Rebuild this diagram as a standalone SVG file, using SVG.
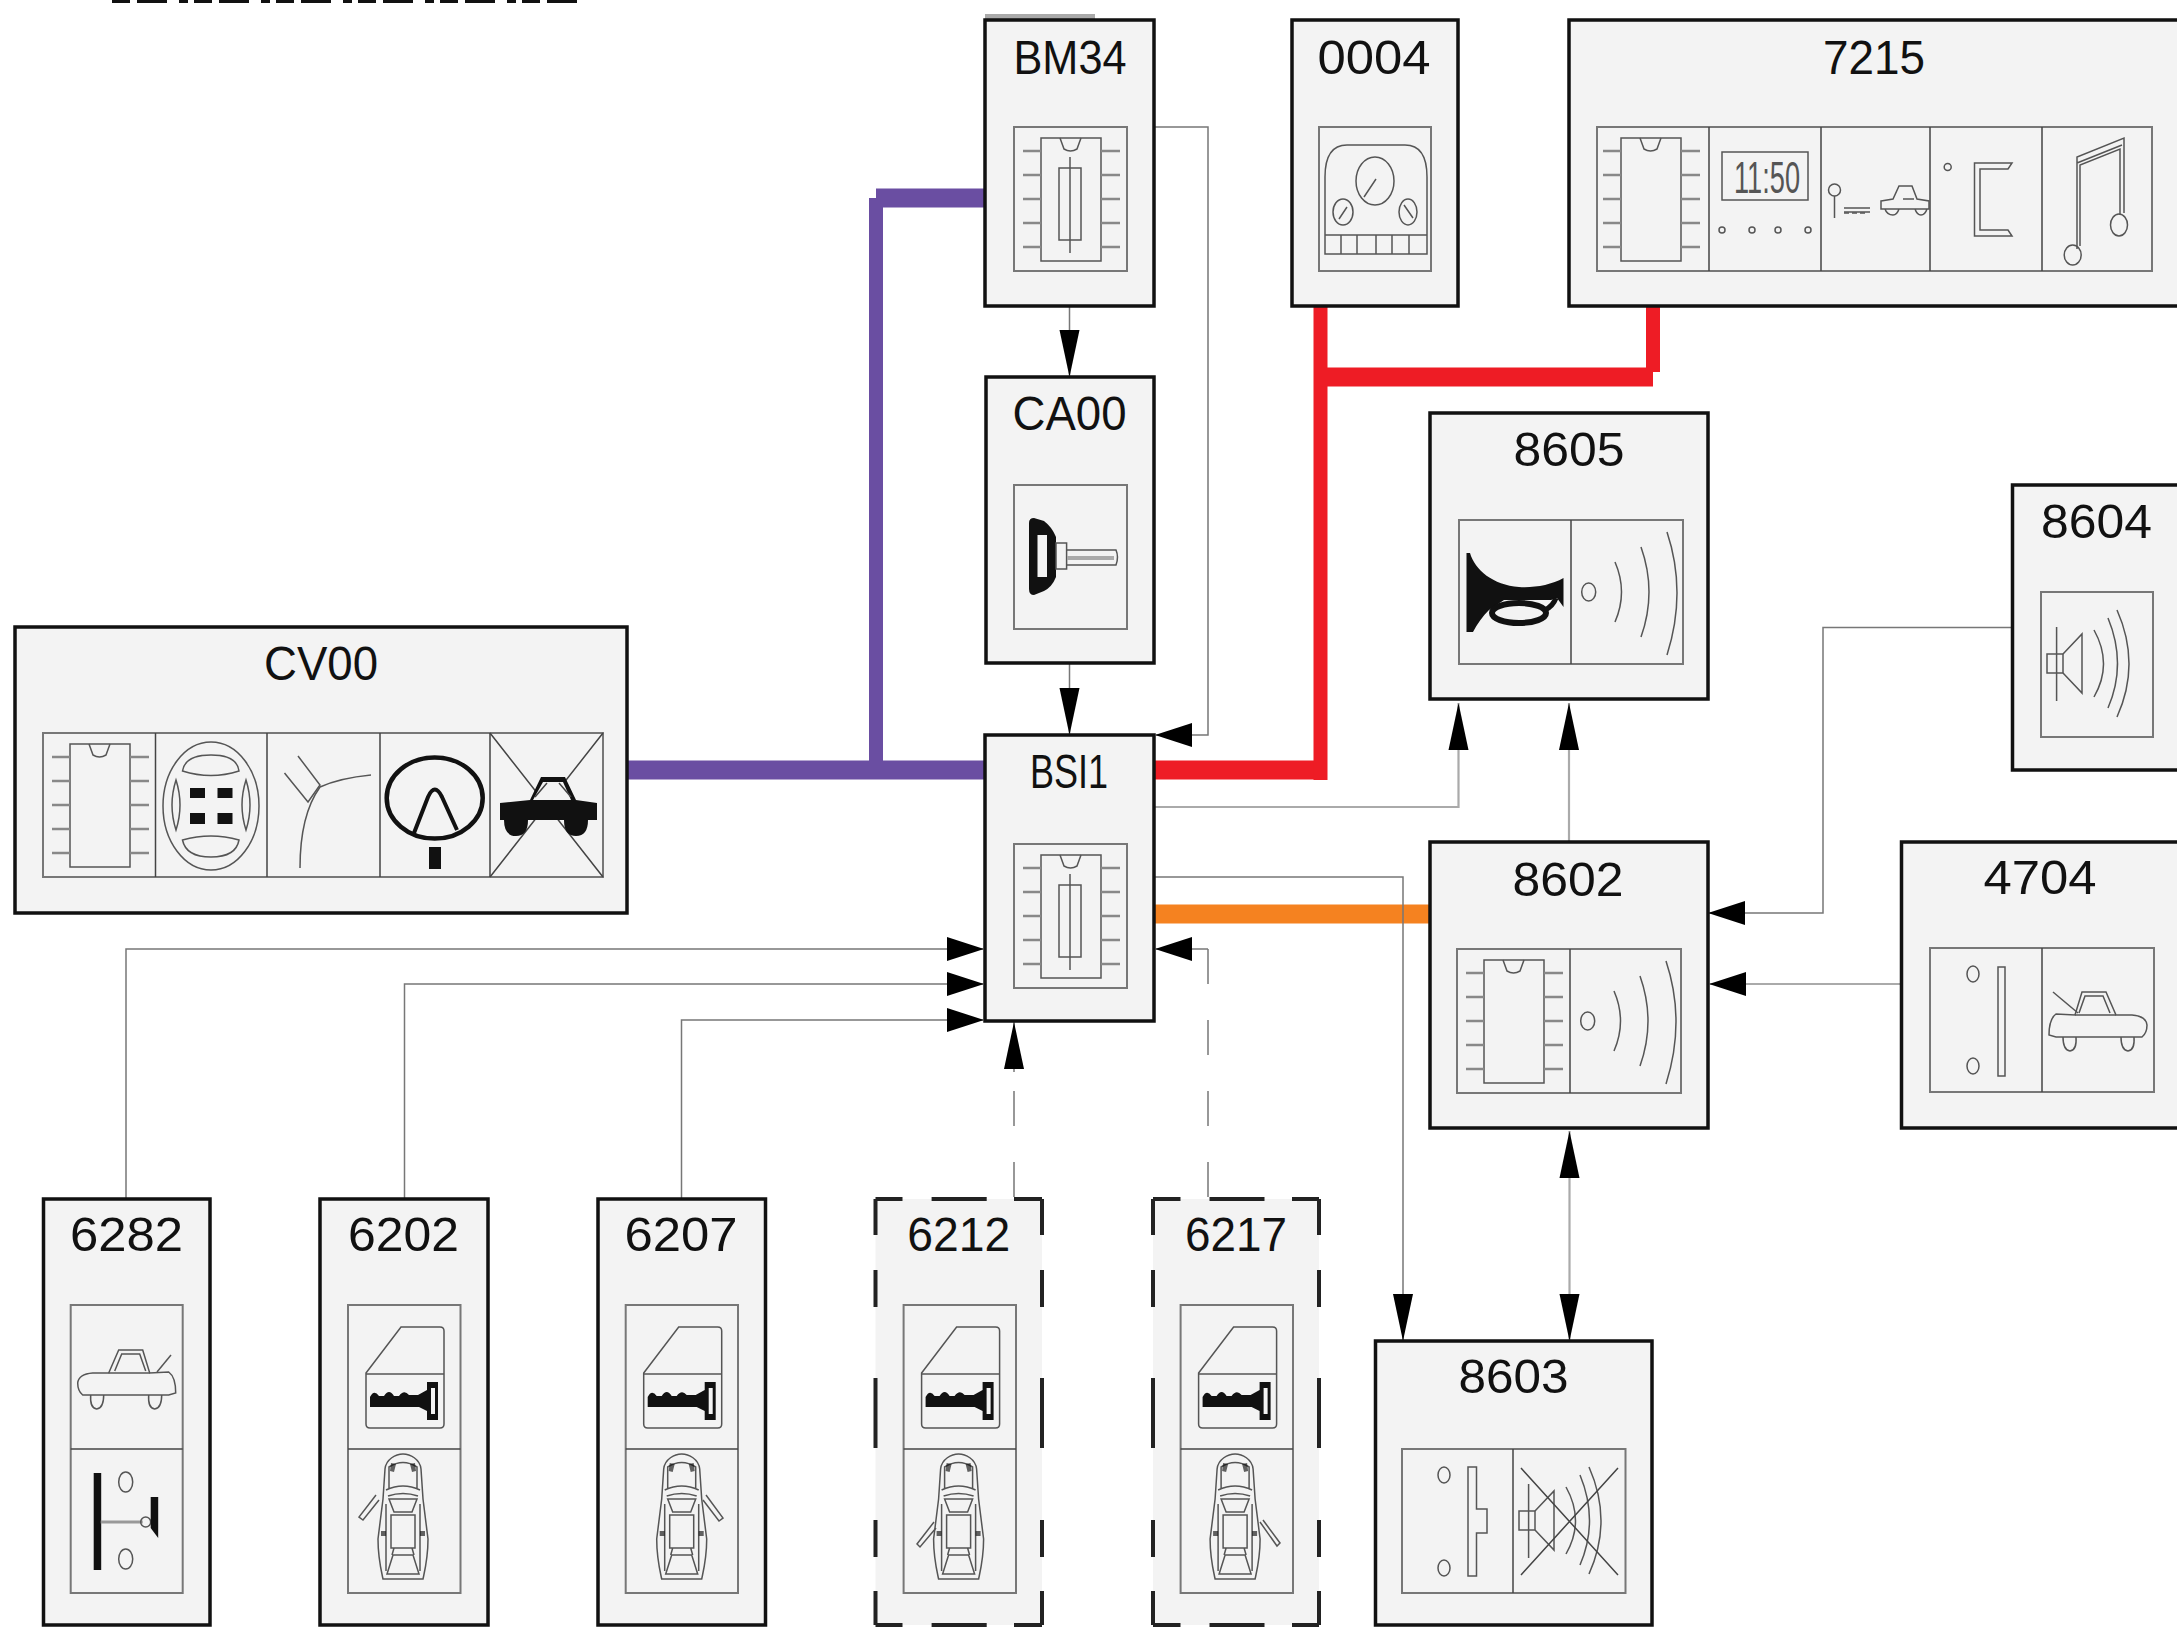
<svg xmlns="http://www.w3.org/2000/svg" width="2177" height="1627" viewBox="0 0 2177 1627">
<style>
.n{fill:#f3f3f3;stroke:#111;stroke-width:3.5}
.nd{fill:#f3f3f3;stroke:none}
.b{fill:none;stroke:#222;stroke-width:4}
.c{fill:#f3f3f3;stroke:#777;stroke-width:2}
.d{stroke:#444;stroke-width:1.5;fill:none}
.i{fill:none;stroke:#555;stroke-width:1.5}
.p{fill:none;stroke:#888;stroke-width:2.5}
.k{fill:#111;stroke:none}
.w{fill:none;stroke:#777;stroke-width:1.5}
.wl{fill:none;stroke:#aaa;stroke-width:2.2}
.wd{fill:none;stroke:#777;stroke-width:1.5;stroke-dasharray:35 36}
.fat{fill:none;stroke-width:19}
.thin{fill:none;stroke-width:14}
.t{font-family:"Liberation Sans",Arial,sans-serif;font-size:48px;text-anchor:middle;fill:#111}
.lcd{font-family:"Liberation Sans",Arial,sans-serif;font-size:44px;text-anchor:middle;fill:#555}
.ah{marker-end:url(#ah)}
.av{marker-end:url(#av)}
</style>
<defs>
<marker id="ah" markerUnits="userSpaceOnUse" markerWidth="38" markerHeight="26" refX="36" refY="13" orient="auto"><path d="M0,1 L37,13 L0,25Z" fill="#000"/></marker>
<marker id="av" markerUnits="userSpaceOnUse" markerWidth="48" markerHeight="22" refX="47" refY="11" orient="auto-start-reverse"><path d="M0,1 L47,11 L0,21Z" fill="#000"/></marker>
<g id="chip">
<rect class="i" x="27" y="11" width="60" height="123" stroke-width="2"/>
<path class="i" d="M46,11 L50,22 Q56.500,26 63,22 L67,11"/>
<path class="p" d="M9,24H27M9,48H27M9,72H27M9,96H27M9,120H27M87,24H106M87,48H106M87,72H106M87,96H106M87,120H106"/>
</g>
<g id="chipcore">
<use href="#chip"/>
<rect class="i" x="45" y="41" width="22" height="72"/>
<path class="i" d="M56,30V126"/>
</g>
<g id="wave">
<ellipse class="i" cx="17.700" cy="72" rx="7" ry="9"/>
<path class="i" d="M44,42 Q57,72 44,102M70,27 Q86,72 70,117M96,12 Q116,72 96,135"/>
</g>
<g id="doorkey">
<path class="i" stroke-width="2" d="M18,68 L53,22 L92,22 Q96,22 96,26 L96,119 Q96,123 92,123 L22,123 Q18,123 18,119 Z"/>
<path class="i" d="M18,69H96"/>
<path class="k" d="M22,102 L22,92 Q26,84 31,91 L36,91 Q41,83 46,91 L51,91 Q56,84 61,90 L70,90 L79,85 L79,77 L90,77 L90,115 L79,115 L79,106 L71,102Z"/>
<rect x="83" y="83" width="4" height="26" fill="#f3f3f3"/>
</g>
<g id="cartop">
<path class="i" d="M37,20 C38,10 48,5 55,5 C62,5 72,10 73,20 L75,50 L80,90 C80,110 76,125 75,130 L35,130 C34,125 30,110 30,90 L35,50 Z"/>
<path class="i" d="M41,40 V18 Q55,9 69,18 V40 M38,41 Q55,33 72,41 M40,47 Q55,42 70,47 M41,50 L69,50 L64,63 L46,63Z M38,55 V122 M72,55 V122 M43,66H67V99H43Z M45,106 H65 L71,125 H39Z M46,99 L44,106 M64,99 L66,106"/>
<path class="k" d="M33,82h5v5h-5zM72,82h5v5h-5zM43,14l5,1l-2,8l-4,-1zM67,14l-5,1l2,8l4,-1z" opacity=".65"/>
</g>
<g id="carside">
<path class="i" d="M7,78 Q8,69 22,68 L38,68 L48,45 H72 L79,68 L98,67 Q105,72 105,88 L98,90 H12 Q7,86 7,78Z"/>
<path class="i" d="M38,68 H79 M44,66 L51,49 H69 L75,66"/>
<path class="i" d="M20,90 Q19,103 26,104 Q33,103 33,90 M78,90 Q77,103 84,104 Q91,103 91,90"/>
</g>
<g id="speaker">
<path class="i" d="M15.600,35V109"/>
<rect class="i" x="6" y="62" width="16" height="19"/>
<path class="i" d="M22,62 L41,42 V101 L22,81"/>
<path class="i" d="M53,38 Q72,72 53,105M67,26 Q86,72 67,116M76,18 Q100,72 76,125"/>
</g>
</defs>

<g id="title-clip"><path d="M112,1.500H585" stroke="#111" stroke-width="3" stroke-dasharray="18 7 30 12 9 6" fill="none"/></g>

<g id="connectors">
<path class="fat" stroke="#6a4ea2" d="M627,770H985"/>
<path class="thin" stroke="#6a4ea2" d="M876,770V198"/>
<path class="fat" stroke="#6a4ea2" d="M876,198H985"/>
<path class="fat" stroke="#ee1c25" d="M1154,770H1320"/>
<path class="thin" stroke="#ee1c25" d="M1320.500,780V306"/>
<path class="fat" stroke="#ee1c25" d="M1320,377H1653"/>
<path class="thin" stroke="#ee1c25" d="M1653,372V306"/>
<path class="fat" stroke="#f58220" d="M1154,914H1430"/>
<path class="w av" d="M1069.500,306V377"/>
<path class="w av" d="M1069.500,663V735"/>
<path class="w ah" d="M1154,127H1208V735H1156"/>
<path class="wl av" d="M1154,807H1458.500V703"/>
<path class="wl av" d="M1569,842V703"/>
<path class="w ah" d="M2012,627.500H1823V913H1709"/>
<path class="wl ah" d="M1902,984H1710"/>
<path class="w av" d="M1154,877H1403V1341" stroke="#999"/>
<path class="wl av" style="marker-start:url(#av)" d="M1569.500,1131V1341"/>
<path class="w ah" d="M126,1199V949H983"/>
<path class="w ah" d="M404.500,1199V984H983"/>
<path class="w ah" d="M681.500,1199V1020H983"/>
<path class="wd" d="M1014,1197V1062"/>
<path class="w av" d="M1014,1072V1022"/>
<path class="wd" d="M1208,1197V949"/>
<path class="w ah" d="M1208,949H1156"/>
</g>

<g id="BM34">
<path d="M985,16.500H1095" stroke="#aaa" stroke-width="5"/>
<rect class="n" x="985" y="20" width="169" height="286"/>
<text class="t" x="1070" y="74" textLength="113" lengthAdjust="spacingAndGlyphs">BM34</text>
<rect class="c" x="1014" y="127" width="113" height="144"/>
<use href="#chipcore" x="1014" y="127"/>
</g>

<g id="N0004">
<rect class="n" x="1292" y="20" width="166" height="286"/>
<text class="t" x="1374" y="74" textLength="113" lengthAdjust="spacingAndGlyphs">0004</text>
<rect class="c" x="1319" y="127" width="112" height="144"/>
<g transform="translate(1319 127)">
<path class="i" d="M6,127 V50 Q6,18 28,18 H86 Q108,18 108,50 V127 Z M6,108H108 M22,108V127 M38,108V127 M57,108V127 M73,108V127 M90,108V127"/>
<ellipse class="i" cx="56" cy="54" rx="19" ry="24"/>
<ellipse class="i" cx="24" cy="85" rx="10" ry="13"/>
<ellipse class="i" cx="89" cy="85" rx="9" ry="13"/>
<path class="i" stroke-width="2.500" d="M45,70 L57,52 M20,92 L28,80 M85,78 L94,91"/>
</g>
</g>

<g id="N7215">
<rect class="n" x="1569" y="20" width="640" height="286"/>
<text class="t" x="1874" y="74" textLength="102" lengthAdjust="spacingAndGlyphs">7215</text>
<rect class="c" x="1597" y="127" width="555" height="144"/>
<path class="d" d="M1709,127V271M1821,127V271M1930,127V271M2042,127V271"/>
<use href="#chip" x="1594" y="127"/>
<g transform="translate(1709 127)">
<rect class="i" x="13" y="25" width="86" height="48" stroke-width="2.500"/>
<text class="lcd" x="58" y="66" textLength="66" lengthAdjust="spacingAndGlyphs">11:50</text>
<circle class="i" cx="13" cy="103" r="3"/><circle class="i" cx="43" cy="103" r="3"/><circle class="i" cx="69" cy="103" r="3"/><circle class="i" cx="99" cy="103" r="3"/>
</g>
<g transform="translate(1821 127)">
<circle class="i" cx="13.500" cy="63" r="6" stroke-width="2"/>
<path class="i" stroke-width="2" d="M13.500,69V91 M23,81H49 M23,85H49"/>
<path class="i" stroke-width="2" d="M23,86h5M31,86h5M39,86h5"/>
<path class="i" d="M60,74 L72,72 L78,59 H91 L96,72 L108,74 V82 H60Z M82,72H93M64,82 Q66,88 72,88 Q76,88 78,82 M94,82 Q96,88 100,88 Q104,88 106,82"/>
</g>
<g transform="translate(1930 127)">
<circle class="i" cx="17.700" cy="40" r="3.500"/>
<path class="i" stroke-width="2" d="M82,36 H44.500 V109 H82 L78,103 H50 V42 H78Z"/>
</g>
<g transform="translate(2042 127)">
<ellipse class="i" cx="30.700" cy="128" rx="8.500" ry="10"/>
<ellipse class="i" cx="77" cy="98" rx="8.500" ry="11"/>
<path class="i" d="M35,122 V30 L82,11 V86 M38,119 V38 L78,22 V88 M35,36 L80,18"/>
</g>
</g>

<g id="CA00">
<rect class="n" x="986" y="377" width="168" height="286"/>
<text class="t" x="1069.500" y="430" textLength="114" lengthAdjust="spacingAndGlyphs">CA00</text>
<rect class="c" x="1014" y="485" width="113" height="144"/>
<g transform="translate(1014 485)">
<path class="k" d="M15,38 Q15,33 20,33 L30,36 Q38,42 42,52 V92 Q38,102 30,106 L20,110 Q15,110 15,104Z"/>
<rect x="23.500" y="50" width="9.500" height="42" fill="#f3f3f3"/>
<rect class="i" x="42" y="58" width="10.600" height="26"/>
<path class="i" d="M52.600,65 H102 Q105,72 102,80 H52.600"/>
<path d="M53,73H100" stroke="#aaa" stroke-width="4"/>
</g>
</g>

<g id="N8605">
<rect class="n" x="1430" y="413" width="278" height="286"/>
<text class="t" x="1569" y="466" textLength="111" lengthAdjust="spacingAndGlyphs">8605</text>
<rect class="c" x="1459" y="520" width="224" height="144"/>
<path class="d" d="M1571,520V664"/>
<g transform="translate(1459 520)">
<path class="k" d="M7.500,33 L11,33 C16,50 34,65 60,67 C75,68 92,65 104.500,58 L104.500,87 L98,78 L92,80 L45,80 L30,90 C24,96 18,104 14,112 L7.500,112Z"/>
<ellipse cx="60" cy="93" rx="27" ry="10" fill="#f3f3f3" stroke="#111" stroke-width="6"/>
<path d="M86,90 Q94,86 97,78" fill="none" stroke="#111" stroke-width="5"/>
</g>
<use href="#wave" x="1571" y="520"/>
</g>

<g id="N8604">
<rect class="n" x="2012.500" y="485" width="200" height="285"/>
<text class="t" x="2096.500" y="538" textLength="111" lengthAdjust="spacingAndGlyphs">8604</text>
<rect class="c" x="2041" y="592" width="112" height="145"/>
<use href="#speaker" x="2041" y="592"/>
</g>

<g id="CV00">
<rect class="n" x="15" y="627" width="612" height="286"/>
<text class="t" x="321" y="680" textLength="114" lengthAdjust="spacingAndGlyphs">CV00</text>
<rect class="c" x="43" y="733" width="560" height="144"/>
<path class="d" d="M155.500,733V877M267,733V877M380,733V877M490,733V877"/>
<use href="#chip" x="43" y="733"/>
<ellipse class="i" cx="211" cy="806" rx="48" ry="64"/>
<path class="i" d="M182.500,771 Q185,755 211,755 Q237,755 239,771 Q211,780 182.500,771ZM182.500,840 Q211,832 239,840 Q236,857 211,857 Q186,857 182.500,840ZM176,780 Q168,805 176,830 Q184,805 176,780ZM246,780 Q238,805 246,830 Q254,805 246,780Z"/>
<path class="k" d="M190,788h15v10h-15zM217.500,788h15v10h-15zM190,813h15v11h-15zM217.500,813h15v11h-15z"/>
<path class="i" d="M300,868 Q300,815 320,787 Q340,778 371,775"/>
<path class="i" d="M298,756 L320,785 L308,802 L284.500,773"/>
<ellipse cx="434.700" cy="798" rx="48" ry="40.600" fill="none" stroke="#111" stroke-width="4.500"/>
<path d="M414,833 L428,797 Q434.700,782 442,797 L457,830" fill="none" stroke="#111" stroke-width="4"/>
<rect class="k" x="429" y="847" width="12" height="22"/>
<path class="d" d="M490,733 L603,877 M603,733 L490,877"/>
<path class="k" d="M500,803 L530,800 L541,777 H565 L576,800 L597,803 L597,820 L588,820 Q588,836 576,836 Q564,836 564,820 L528,820 Q528,836 516,836 Q504,836 504,820 L500,820Z"/>
<path d="M533,800 L543,782 H563 L571,800Z" fill="#f3f3f3"/>
<path class="d" d="M535,797 L547,783 M571,797 L559,783"/>
</g>

<g id="BSI1">
<rect class="n" x="985" y="735" width="169" height="286"/>
<text class="t" x="1069" y="788" textLength="78" lengthAdjust="spacingAndGlyphs">BSI1</text>
<rect class="c" x="1014" y="844" width="113" height="144"/>
<use href="#chipcore" x="1014" y="844"/>
</g>

<g id="N8602">
<rect class="n" x="1430" y="842" width="278" height="286"/>
<text class="t" x="1568" y="896" textLength="111" lengthAdjust="spacingAndGlyphs">8602</text>
<rect class="c" x="1457" y="949" width="224" height="144"/>
<path class="d" d="M1570,949V1093" stroke-width="2"/>
<use href="#chip" x="1457" y="949"/>
<use href="#wave" x="1570" y="949"/>
</g>

<g id="N4704">
<rect class="n" x="1901.500" y="842" width="310" height="286"/>
<text class="t" x="2040" y="894" textLength="113" lengthAdjust="spacingAndGlyphs">4704</text>
<rect class="c" x="1930" y="948" width="224" height="144"/>
<path class="d" d="M2042,948V1092"/>
<g transform="translate(1930 948)">
<ellipse class="i" cx="43" cy="26" rx="6" ry="8"/>
<ellipse class="i" cx="43" cy="118" rx="6" ry="8"/>
<rect class="i" x="68" y="19" width="7" height="109"/>
</g>
<use href="#carside" transform="translate(2154 947) scale(-1 1)"/>
<path class="i" stroke-width="3" d="M2053,992 L2078,1013"/>
</g>

<g id="N6282">
<rect class="n" x="43.500" y="1199" width="166.500" height="426"/>
<text class="t" x="126.500" y="1251" textLength="113" lengthAdjust="spacingAndGlyphs">6282</text>
<rect class="c" x="70.700" y="1305" width="112" height="288"/>
<path class="d" d="M70.700,1449H182.700" stroke-width="2.500" stroke="#666"/>
<use href="#carside" x="70.700" y="1305"/>
<path class="i" stroke-width="3" d="M157,1372 L171,1355"/>
<g transform="translate(70.700 1449)">
<rect class="k" x="23" y="24" width="7.500" height="97"/>
<ellipse class="i" cx="55" cy="33" rx="7" ry="10"/>
<ellipse class="i" cx="55" cy="110" rx="7" ry="10"/>
<path d="M30,73H72" stroke="#999" stroke-width="3"/>
<circle class="i" cx="75" cy="73" r="5"/>
<path class="k" d="M80,48 H87.500 V89 L80,79Z"/>
</g>
</g>

<g id="N6202">
<rect class="n" x="320" y="1199" width="168" height="426"/>
<text class="t" x="403.500" y="1251" textLength="111" lengthAdjust="spacingAndGlyphs">6202</text>
<rect class="c" x="348" y="1305" width="112.500" height="288"/>
<path class="d" d="M348,1449H460.500" stroke-width="2.500" stroke="#666"/>
<use href="#doorkey" x="348" y="1305"/>
<use href="#cartop" x="348" y="1449"/>
<path class="i" stroke-width="2" d="M376,1495 L359,1517 L363,1520 L379,1500"/>
</g>

<g id="N6207">
<rect class="n" x="598" y="1199" width="167.500" height="426"/>
<text class="t" x="681" y="1251" textLength="113" lengthAdjust="spacingAndGlyphs">6207</text>
<rect class="c" x="625.700" y="1305" width="112.300" height="288"/>
<path class="d" d="M625.700,1449H738" stroke-width="2.500" stroke="#666"/>
<use href="#doorkey" x="625.700" y="1305"/>
<use href="#cartop" x="626.700" y="1449"/>
<path class="i" stroke-width="2" d="M706,1495 L723,1518 L719,1521 L703,1500"/>
</g>

<g id="N6212">
<rect class="nd" x="875.500" y="1199" width="166.500" height="426"/>
<path class="b" d="M875.500,1199H902.500M931.600,1199H986.700M1014,1199H1042M875.500,1625H902.500M931.600,1625H986.700M1014,1625H1042"/>
<path class="b" d="M875.500,1199V1235M875.500,1270V1307M875.500,1378V1448M875.500,1520V1557M875.500,1591V1625M1042,1199V1235M1042,1270V1307M1042,1378V1448M1042,1520V1557M1042,1591V1625" stroke="#555"/>
<text class="t" x="958.700" y="1251" textLength="103" lengthAdjust="spacingAndGlyphs">6212</text>
<rect class="c" x="903.600" y="1305" width="112.400" height="288"/>
<path class="d" d="M903.600,1449H1016" stroke-width="2.500" stroke="#555"/>
<use href="#doorkey" x="903.600" y="1305"/>
<use href="#cartop" x="903.600" y="1449"/>
<path class="i" stroke-width="2" d="M934,1522 L917,1544 L920,1547 L936,1528"/>
</g>

<g id="N6217">
<rect class="nd" x="1153" y="1199" width="166" height="426"/>
<path class="b" d="M1153,1199H1180.500M1209.500,1199H1264.500M1292,1199H1319M1153,1625H1180.500M1209.500,1625H1264.500M1292,1625H1319"/>
<path class="b" d="M1153,1199V1235M1153,1270V1307M1153,1378V1448M1153,1520V1557M1153,1591V1625M1319,1199V1235M1319,1270V1307M1319,1378V1448M1319,1520V1557M1319,1591V1625" stroke="#555"/>
<text class="t" x="1236" y="1251" textLength="102" lengthAdjust="spacingAndGlyphs">6217</text>
<rect class="c" x="1180.600" y="1305" width="112.400" height="288"/>
<path class="d" d="M1180.600,1449H1293" stroke-width="3" stroke="#222"/>
<use href="#doorkey" x="1180.600" y="1305"/>
<use href="#cartop" x="1180.100" y="1449"/>
<path class="i" stroke-width="2" d="M1260,1522 L1277,1546 L1280,1543 L1263,1520"/>
</g>

<g id="N8603">
<rect class="n" x="1375.500" y="1341" width="276.500" height="284"/>
<text class="t" x="1513.500" y="1393" textLength="110" lengthAdjust="spacingAndGlyphs">8603</text>
<rect class="c" x="1402" y="1449" width="223.500" height="144"/>
<path class="d" d="M1513,1449V1593"/>
<g transform="translate(1402 1449)">
<ellipse class="i" cx="42" cy="26" rx="6" ry="8"/>
<ellipse class="i" cx="42" cy="119" rx="6" ry="8"/>
<path class="i" d="M66,18H74.500V60H85V84H74.500V127H66Z"/>
</g>
<use href="#speaker" x="1513" y="1449"/>
<path class="d" d="M1521,1468 L1618,1575 M1618,1468 L1521,1575"/>
</g>
</svg>
